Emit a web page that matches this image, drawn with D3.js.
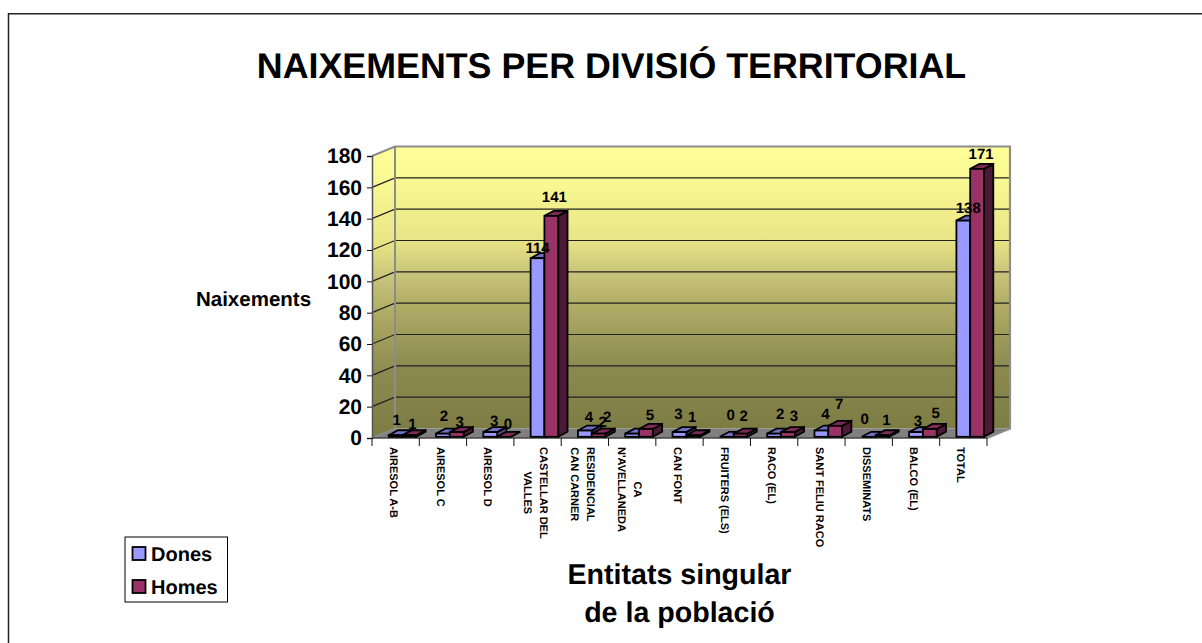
<!DOCTYPE html>
<html><head><meta charset="utf-8">
<script src="https://cdn.jsdelivr.net/npm/d3@7"></script>
<style>
html,body{margin:0;padding:0;background:#fff}
svg{display:block}
text{font-family:"Liberation Sans",Arial,sans-serif;font-weight:bold;fill:#000;text-rendering:geometricPrecision}
</style></head><body>
<svg id="c" width="1202" height="643"></svg>
<script>
const categories = [
  ["AIRESOL A-B"],["AIRESOL C"],["AIRESOL D"],["CASTELLAR DEL","VALLES"],
  ["RESIDENCIAL","CAN CARNER"],["CA","N'AVELLANEDA"],["CAN FONT"],["FRUITERS (ELS)"],
  ["RACO (EL)"],["SANT FELIU RACO"],["DISSEMINATS"],["BALCO (EL)"],["TOTAL"]
];
const dones = [1,2,3,114,4,2,3,0,2,4,0,3,138];
const homes = [1,3,0,141,2,5,1,2,3,7,1,5,171];
const seriesNames = ["Dones","Homes"];
const yTicks = [0,20,40,60,80,100,120,140,160,180];

// label placement tweaks (the source chart had hand-moved labels)
const doneDx = [0,0,3,-1,3,-26,-2,3,5,3,-5,1,4];
const doneDy = [-1,-4,3,4,0,-3,-4,-8,-6,-3,-4,3,1];
const homeDx = [0,0,1,0,1,1,-4,0,3,1,1,3,1];
const homeDy = [3,4,1,-5,2,0,-4,-4,-2,-8,-1,-2,-1];

const svg = d3.select("#c");
const defs = svg.append("defs");
const grad = defs.append("linearGradient").attr("id","wall").attr("x1",0).attr("x2",0).attr("y1",0).attr("y2",1);
[[0,"#ffff99"],[.12,"#f9f993"],[.33,"#e8e586"],[.45,"#c8c47a"],[.56,"#b0ad66"],[.78,"#8c8a50"],[1,"#7c7c44"]]
  .forEach(([o,c])=>grad.append("stop").attr("offset",o).attr("stop-color",c));

svg.append("polyline").attr("points","8.5,643 8.5,13.7 1202,13.7")
  .attr("fill","none").attr("stroke","#222").attr("stroke-width",1.5);

const left=372,right=987,y0=438,yTop=156,ddx=23,ddy=-9.5;
const x = d3.scaleBand().domain(d3.range(categories.length)).range([left,right]);
const y = d3.scaleLinear().domain([0,180]).range([y0,yTop]);
const barBase = -1.2;
const inner = d3.scaleBand().domain(seriesNames).range([16.7,44.3]);
const bw = inner.bandwidth(), bdx=9.3, bdy=-5;
const poly = pts => pts.map(p=>p.join(",")).join(" ");

// walls
svg.append("polygon").attr("points",poly([[left,yTop],[left+ddx,yTop+ddy],[left+ddx,y0+ddy],[left,y0]]))
  .attr("fill","url(#wall)");
svg.append("rect").attr("x",left+ddx).attr("y",yTop+ddy).attr("width",right-left).attr("height",y0-yTop)
  .attr("fill","url(#wall)");
svg.append("polygon").attr("points",poly([[left,y0],[left+ddx,y0+ddy],[right+ddx,y0+ddy],[right,y0]]))
  .attr("fill","#808080");
// gridlines
const grid = svg.append("g").attr("fill","none").attr("stroke","#222").attr("stroke-width",1.2);
yTicks.filter(d=>d>0&&d<180).forEach(d=>{
  grid.append("polyline").attr("points",poly([[left,y(d)],[left+ddx,y(d)+ddy],[right+ddx,y(d)+ddy]]));
});
// wall outlines
svg.append("polyline").attr("fill","none").attr("stroke","#8c8c8c").attr("stroke-width",2.2)
  .attr("points",poly([[left,yTop],[left+ddx,yTop+ddy],[right+ddx,yTop+ddy],[right+ddx,y0+ddy],[right,y0]]));
svg.append("line").attr("stroke","#8c8c8c").attr("stroke-width",2)
  .attr("x1",left+ddx).attr("x2",left+ddx).attr("y1",yTop+ddy).attr("y2",y0+ddy);
svg.append("line").attr("stroke","#8c8c8c").attr("stroke-width",1.5)
  .attr("x1",left).attr("x2",left+ddx).attr("y1",y0).attr("y2",y0+ddy);

// axes
const yAxis = d3.axisLeft(y).tickValues(yTicks).tickSize(5).tickPadding(5);
const gy = svg.append("g").attr("transform",`translate(${left},0)`).call(yAxis);
gy.select(".domain").attr("stroke","#555").attr("stroke-width",1.5);
gy.selectAll("line").attr("stroke","#111");
gy.selectAll("text").style("font-size","21px").attr("fill","#000");
svg.append("line").attr("x1",left).attr("x2",right).attr("y1",y0).attr("y2",y0).attr("stroke","#444").attr("stroke-width",1.5);
svg.append("g").selectAll("line").data(d3.range(categories.length+1)).join("line")
  .attr("x1",i=>left+i*x.step()).attr("x2",i=>left+i*x.step()).attr("y1",y0).attr("y2",y0+8)
  .attr("stroke","#111");

// bars
const palette = {Dones:{front:"#9999ff",top:"#7070c8",side:"#4c4c80"},Homes:{front:"#993366",top:"#7d2a54",side:"#4c1a37"}};
const bars = svg.append("g").attr("stroke","#000").attr("stroke-width",1.8).attr("stroke-linejoin","miter");
categories.forEach((c,i)=>{
  seriesNames.forEach((s,k)=>{
    const v = (k?homes:dones)[i];
    const xl = x(i)+inner(s), xr = xl+bw, b = y0+barBase, t = y(v)+barBase;
    const col = palette[s];
    bars.append("polygon").attr("fill",col.side).attr("points",poly([[xr,t],[xr+bdx,t+bdy],[xr+bdx,b+bdy],[xr,b]]));
    bars.append("polygon").attr("fill",col.top).attr("points",poly([[xl,t],[xl+bdx,t+bdy],[xr+bdx,t+bdy],[xr,t]]));
    bars.append("rect").attr("fill",col.front).attr("x",xl).attr("y",t).attr("width",bw).attr("height",b-t);
  });
});

// data labels
const labels = svg.append("g").style("font-size","15px").attr("text-anchor","middle");
categories.forEach((c,i)=>{
  seriesNames.forEach((s,k)=>{
    const v = (k?homes:dones)[i];
    labels.append("text").text(v)
      .attr("x",x(i)+inner(s)+bw/2+(k?3:1)+(k?homeDx:doneDx)[i])
      .attr("y",y(v)-10+(k?homeDy:doneDy)[i]);
  });
});

// category labels
const catG = svg.append("g").style("font-size","11px").attr("text-anchor","middle");
categories.forEach((lines,i)=>{
  const g = catG.append("g").attr("transform",`translate(${x(i)+x.bandwidth()/2-2},447) rotate(90)`);
  const ts = lines.map((l,j)=>g.append("text").text(l)
    .attr("y",(j-(lines.length-1)/2)*16).attr("dy","0.35em"));
  const mx = d3.max(ts,t=>t.node().getComputedTextLength());
  ts.forEach(t=>t.attr("x",mx/2));
});

// titles
svg.append("text").text("NAIXEMENTS PER DIVISIÓ TERRITORIAL").attr("x",611.5).attr("y",78)
  .attr("text-anchor","middle").style("font-size","35.8px");
svg.append("text").text("Naixements").attr("x",253.5).attr("y",305.5)
  .attr("text-anchor","middle").style("font-size","20.5px");
const xt = svg.append("g").attr("text-anchor","middle").style("font-size","28.6px");
xt.append("text").text("Entitats singular").attr("x",679.5).attr("y",584);
xt.append("text").text("de la població").attr("x",679.5).attr("y",622);

// legend
const lg = svg.append("g");
lg.append("rect").attr("x",125).attr("y",537).attr("width",102.5).attr("height",65)
  .attr("fill","#fff").attr("stroke","#000");
seriesNames.forEach((s,k)=>{
  lg.append("rect").attr("x",132.5).attr("y",547+k*33).attr("width",13).attr("height",13)
    .attr("fill",palette[s].front).attr("stroke","#000").attr("stroke-width",1.8);
  lg.append("text").text(s).attr("x",151).attr("y",561+k*32.5).style("font-size","20px");
});
</script></body></html>
